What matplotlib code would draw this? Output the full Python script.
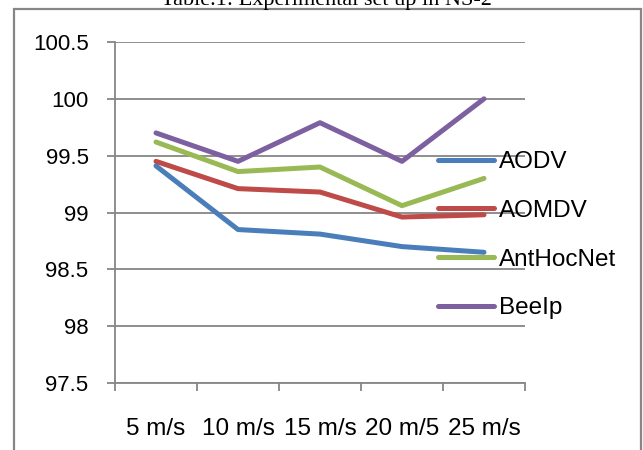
import matplotlib
matplotlib.use('Agg')
import matplotlib.pyplot as plt
from matplotlib.patches import Rectangle

plt.rcParams['font.family'] = ['Liberation Sans', 'DejaVu Sans']

# data
speeds = ['5 m/s', '10 m/s', '15 m/s', '20 m/5', '25 m/s']
aodv = [99.41, 98.85, 98.81, 98.70, 98.65]
aomdv = [99.45, 99.21, 99.18, 98.96, 98.98]
anthocnet = [99.62, 99.36, 99.40, 99.06, 99.30]
beeip = [99.70, 99.45, 99.79, 99.45, 100.0]
protocols = ['AODV', 'AOMDV', 'AntHocNet', 'BeeIp']
colors = ['#4A7EBB', '#BE4B48', '#98B954', '#7D60A0']
yticks = [97.5, 98, 98.5, 99, 99.5, 100, 100.5]
ytick_labels = ['97.5', '98', '98.5', '99', '99.5', '100', '100.5']

W, H = 643, 450
fig = plt.figure(figsize=(W / 100, H / 100), dpi=100)
ax = fig.add_axes([115 / W, 1 - 383 / H, 410 / W, 341 / H])

gray = '#868686'
x = [i + 0.5 for i in range(len(speeds))]
for series, name, c in zip([aodv, aomdv, anthocnet, beeip], protocols, colors):
    ax.plot(x, series, color=c, lw=3.6, label=name,
            solid_capstyle='round', solid_joinstyle='round')

ax.set_xlim(0, len(speeds))
ax.set_ylim(97.5, 100.5)
ax.set_yticks(yticks)
ax.set_yticklabels(ytick_labels)
ax.yaxis.grid(True, color=gray, lw=1.3)
ax.set_axisbelow(True)

ax.set_xticks(range(len(speeds) + 1))
ax.set_xticklabels([])
ax.set_xticks(x, minor=True)
ax.set_xticklabels(speeds, minor=True)
ax.tick_params(axis='x', which='major', length=6, width=1.3, color=gray, direction='out')
ax.tick_params(axis='x', which='minor', length=0, pad=25, labelsize=17.5)
ax.tick_params(axis='y', length=6, width=1.3, color=gray, direction='out', pad=13, labelsize=16)

for s in ['top', 'right']:
    ax.spines[s].set_visible(False)
for s in ['left', 'bottom']:
    ax.spines[s].set_color(gray)
    ax.spines[s].set_linewidth(1.3)

leg = fig.legend(loc='upper left', bbox_to_anchor=(438 / W, 1 - 151 / H),
                 frameon=False, fontsize=17.5, handlelength=2.3, handletextpad=0.2,
                 labelspacing=1.1, borderpad=0, borderaxespad=0)

# chart border
fig.patches.append(Rectangle((13.5 / W, -0.1), (641 - 13.5) / W, 1.1 - 9.5 / H,
                             transform=fig.transFigure, fill=False,
                             edgecolor=gray, lw=1.6, clip_on=False))

# caption of the page, cut off at the top
fig.text(326 / W, 1 - 4.5 / H, 'Table.1: Experimental set up in NS-2', ha='center',
         va='baseline', fontsize=16, family=['Liberation Serif'])

fig.savefig('out.png', dpi=100)
